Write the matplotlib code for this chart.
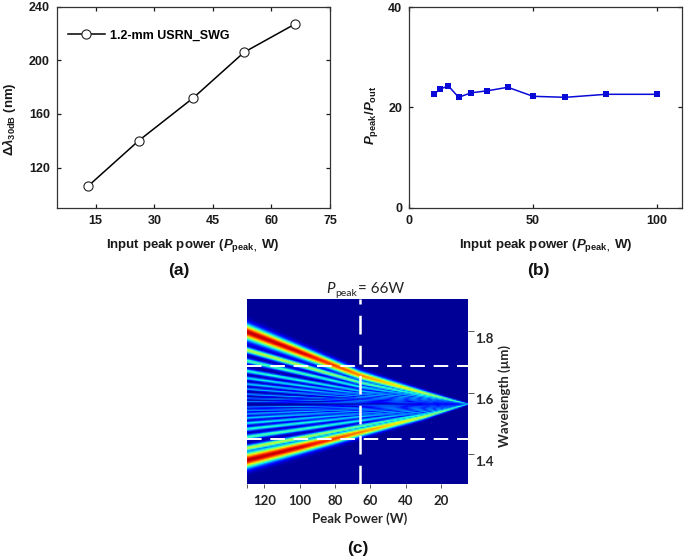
import numpy as np
import matplotlib
matplotlib.use("Agg")
import matplotlib.pyplot as plt
from matplotlib.transforms import ScaledTranslation

W, H = 685, 558
plt.rcParams.update({
    "font.family": ["Liberation Sans", "DejaVu Sans"],
    "font.weight": "bold",
    "axes.labelweight": "bold",
    "font.size": 9,
    "mathtext.fontset": "custom",
    "mathtext.rm": "Liberation Sans:bold",
    "mathtext.bf": "Liberation Sans:bold",
    "mathtext.it": "Liberation Sans:italic:bold",
})

# Panel (a)
power_a = [13, 26, 40, 53, 66]
bandwidth_a = [106, 140, 172, 206, 227]
# Panel (b)
power_b = [10, 12.5, 15.8, 20, 25, 31.6, 39.8, 50, 63, 79.4, 100]
ratio_b = [22.6, 23.6, 24.3, 22.0, 22.9, 23.3, 24.0, 22.2, 22.0, 22.6, 22.6]
# Panel (c): fringes read at the left edge (130 W)
centre_wl = 1.561
upper_offsets = [0.234, 0.175, 0.140, 0.107, 0.084, 0.065, 0.049, 0.032, 0.019, 0.008]
lower_offsets = [0.182, 0.143, 0.107, 0.081, 0.062, 0.045, 0.032, 0.021, 0.010]
fringe_amps = [0.95, 0.58, 0.44, 0.40, 0.36, 0.33, 0.30, 0.28, 0.26, 0.24]
fringe_sigma = [0.017, 0.0068, 0.0056, 0.0048, 0.0041, 0.0036, 0.0031, 0.0027, 0.0023, 0.0020]
knot_power = [5, 30, 66, 100, 130]
upper_scale = [0.0, 0.155, 0.40, 0.72, 1.0]
lower_scale = [0.0, 0.23, 0.505, 0.77, 1.0]
amp_scale = [0.38, 0.62, 0.82, 0.98, 1.0]
main_width_scale = [0.12, 0.33, 0.55, 0.78, 1.0]
inner_width_scale = [0.30, 0.50, 0.70, 0.88, 1.0]
marked_power = 66
marked_wl = [1.686, 1.450]


def box(l, t, r, b):
    return [l / W, 1 - b / H, (r - l) / W, (b - t) / H]


def label_xy(ax, x, y):
    inv = ax.transAxes.inverted()
    return inv.transform((x, H - y))


fig = plt.figure(figsize=(W / 100, H / 100), dpi=100)
INK = "#1a1a1a"

# ---------- (a)
ax = fig.add_axes(box(56.7, 6.7, 330, 207.7))
ax.plot(power_a, bandwidth_a, "-o", color="black", lw=1.1, ms=6.6, mfc="white",
        mec="#222222", mew=0.8, label="1.2-mm USRN_SWG")
ax.set_xlim(5, 75)
ax.set_ylim(90, 240)
ax.set_xticks([15, 30, 45, 60, 75])
ax.set_yticks([120, 160, 200, 240])
ax.tick_params(direction="in", length=3, width=0.9, top=True, right=True, labelsize=9,
               pad=5, colors=INK)
ax.legend(loc="upper left", bbox_to_anchor=(0.04, 0.885), frameon=False, fontsize=9,
          handlelength=3.0, handletextpad=0.4, borderpad=0, borderaxespad=0)
ax.set_xlabel(r"Input peak power ($\mathit{P}_{\mathrm{peak,}}$ W)", fontsize=9.5, color=INK)
ax.set_ylabel(r"$\mathit{\Delta\lambda}_{\mathrm{30dB}}$ (nm)", fontsize=9.5, color=INK)
ax.xaxis.set_label_coords(*label_xy(ax, 193, 237))
ax.yaxis.set_label_coords(*label_xy(ax, 18, 119))
for s in ax.spines.values():
    s.set_linewidth(0.9)
    s.set_color("#333333")

# ---------- (b)
ax = fig.add_axes(box(409, 7, 682, 207.7))
ax.plot(power_b, ratio_b, "-s", color="#0a0ad8", lw=1.1, ms=4.6, mew=0)
ax.set_xlim(0, 110)
ax.set_ylim(0, 40)
ax.set_xticks([0, 50, 100])
ax.set_yticks([0, 20, 40])
ax.tick_params(direction="in", length=3, width=0.9, top=True, right=True, labelsize=9,
               pad=5, colors=INK)
ax.set_xlabel(r"Input peak power ($\mathit{P}_{\mathrm{peak,}}$ W)", fontsize=9.5, color=INK)
ax.set_ylabel(r"$\mathit{P}_{\mathrm{peak}}/\mathit{P}_{\mathrm{out}}$", fontsize=9.5, color=INK)
ax.xaxis.set_label_coords(*label_xy(ax, 546, 237))
ax.yaxis.set_label_coords(*label_xy(ax, 380, 115))
for s in ax.spines.values():
    s.set_linewidth(0.9)
    s.set_color("#333333")

# ---------- (c)
ax = fig.add_axes(box(246.7, 299, 467.7, 484.3))
pw = np.linspace(130, 5, 160)
wl = np.linspace(1.303, 1.904, 150)
P, L = np.meshgrid(pw, wl)
us = np.interp(P, knot_power, upper_scale)
ls = np.interp(P, knot_power, lower_scale)
am = np.interp(P, knot_power, amp_scale)
mw = np.interp(P, knot_power, main_width_scale)
iw = np.interp(P, knot_power, inner_width_scale)
Z = np.zeros_like(P)
for i, off in enumerate(upper_offsets):
    ws = mw if i == 0 else iw
    Z = np.maximum(Z, fringe_amps[i] * am * np.exp(-0.5 * ((L - centre_wl - off * us) / (fringe_sigma[i] * ws)) ** 2))
for i, off in enumerate(lower_offsets):
    ws = mw if i == 0 else iw
    Z = np.maximum(Z, fringe_amps[i] * am * np.exp(-0.5 * ((L - centre_wl + off * ls) / (fringe_sigma[i] * ws)) ** 2))
ax.imshow(Z, extent=[130, 5, 1.303, 1.904], origin="lower", aspect="auto", cmap="jet",
          vmin=-0.02, vmax=1.0, interpolation="bilinear")
dash = (0, (7.5, 4.5))
ax.axvline(marked_power, color="white", lw=1.8, ls=dash)
for w in marked_wl:
    ax.axhline(w, color="white", lw=1.4, ls=dash)
ax.set_xlim(130, 5)
ax.set_ylim(1.303, 1.904)
ax.set_xticks([130, 120, 100, 80, 60, 40, 20], ["", "120", "100", "80", "60", "40", "20"])
ax.yaxis.tick_right()
ax.set_yticks([1.4, 1.6, 1.8], ["1.4", "1.6", "1.8"])
ax.tick_params(axis="both", direction="out", length=3, width=0.7, color="#555555", labelcolor="#262626")
ax.tick_params(axis="x", labelsize=9.5, pad=5)
ax.tick_params(axis="y", labelsize=9.5, pad=1.3, length=4)
for t in ax.get_xticklabels() + ax.get_yticklabels():
    t.set_family(["Lato", "DejaVu Sans"])
    t.set_weight("bold")
off = ScaledTranslation(0, -6.5 / 100, fig.dpi_scale_trans)
for t in ax.get_yticklabels():
    t.set_transform(t.get_transform() + off)
ax.set_xlabel("Peak Power (W)", family=["Lato", "DejaVu Sans"], fontsize=9.5, color="#262626")
ax.set_ylabel("Wavelength (µm)", family=["Lato", "DejaVu Sans"], fontsize=9.5, color="#262626")
ax.yaxis.set_label_position("right")
ax.xaxis.set_label_coords(*label_xy(ax, 360, 512))
ax.yaxis.set_label_coords(*label_xy(ax, 498, 396))
for s in ax.spines.values():
    s.set_visible(False)

# title built from pieces so that only P is italic
reg = dict(family=["Lato", "DejaVu Sans"], weight="normal", color="#222222", va="baseline")
fig.text(326 / W, 1 - 293 / H, "P", style="italic", fontsize=11, **reg)
fig.text(335 / W, 1 - 296 / H, "peak", fontsize=7.5, **reg)
fig.text(358 / W, 1 - 293 / H, "= 66W", fontsize=11, **reg)

# ---------- panel letters
for txt, x, y in [("(a)", 179, 270), ("(b)", 538, 270), ("(c)", 358, 549)]:
    fig.text(x / W, 1 - y / H, txt, ha="center", va="center", fontsize=12.5, weight="bold", color="#111111")

fig.savefig("out.png", dpi=100)
